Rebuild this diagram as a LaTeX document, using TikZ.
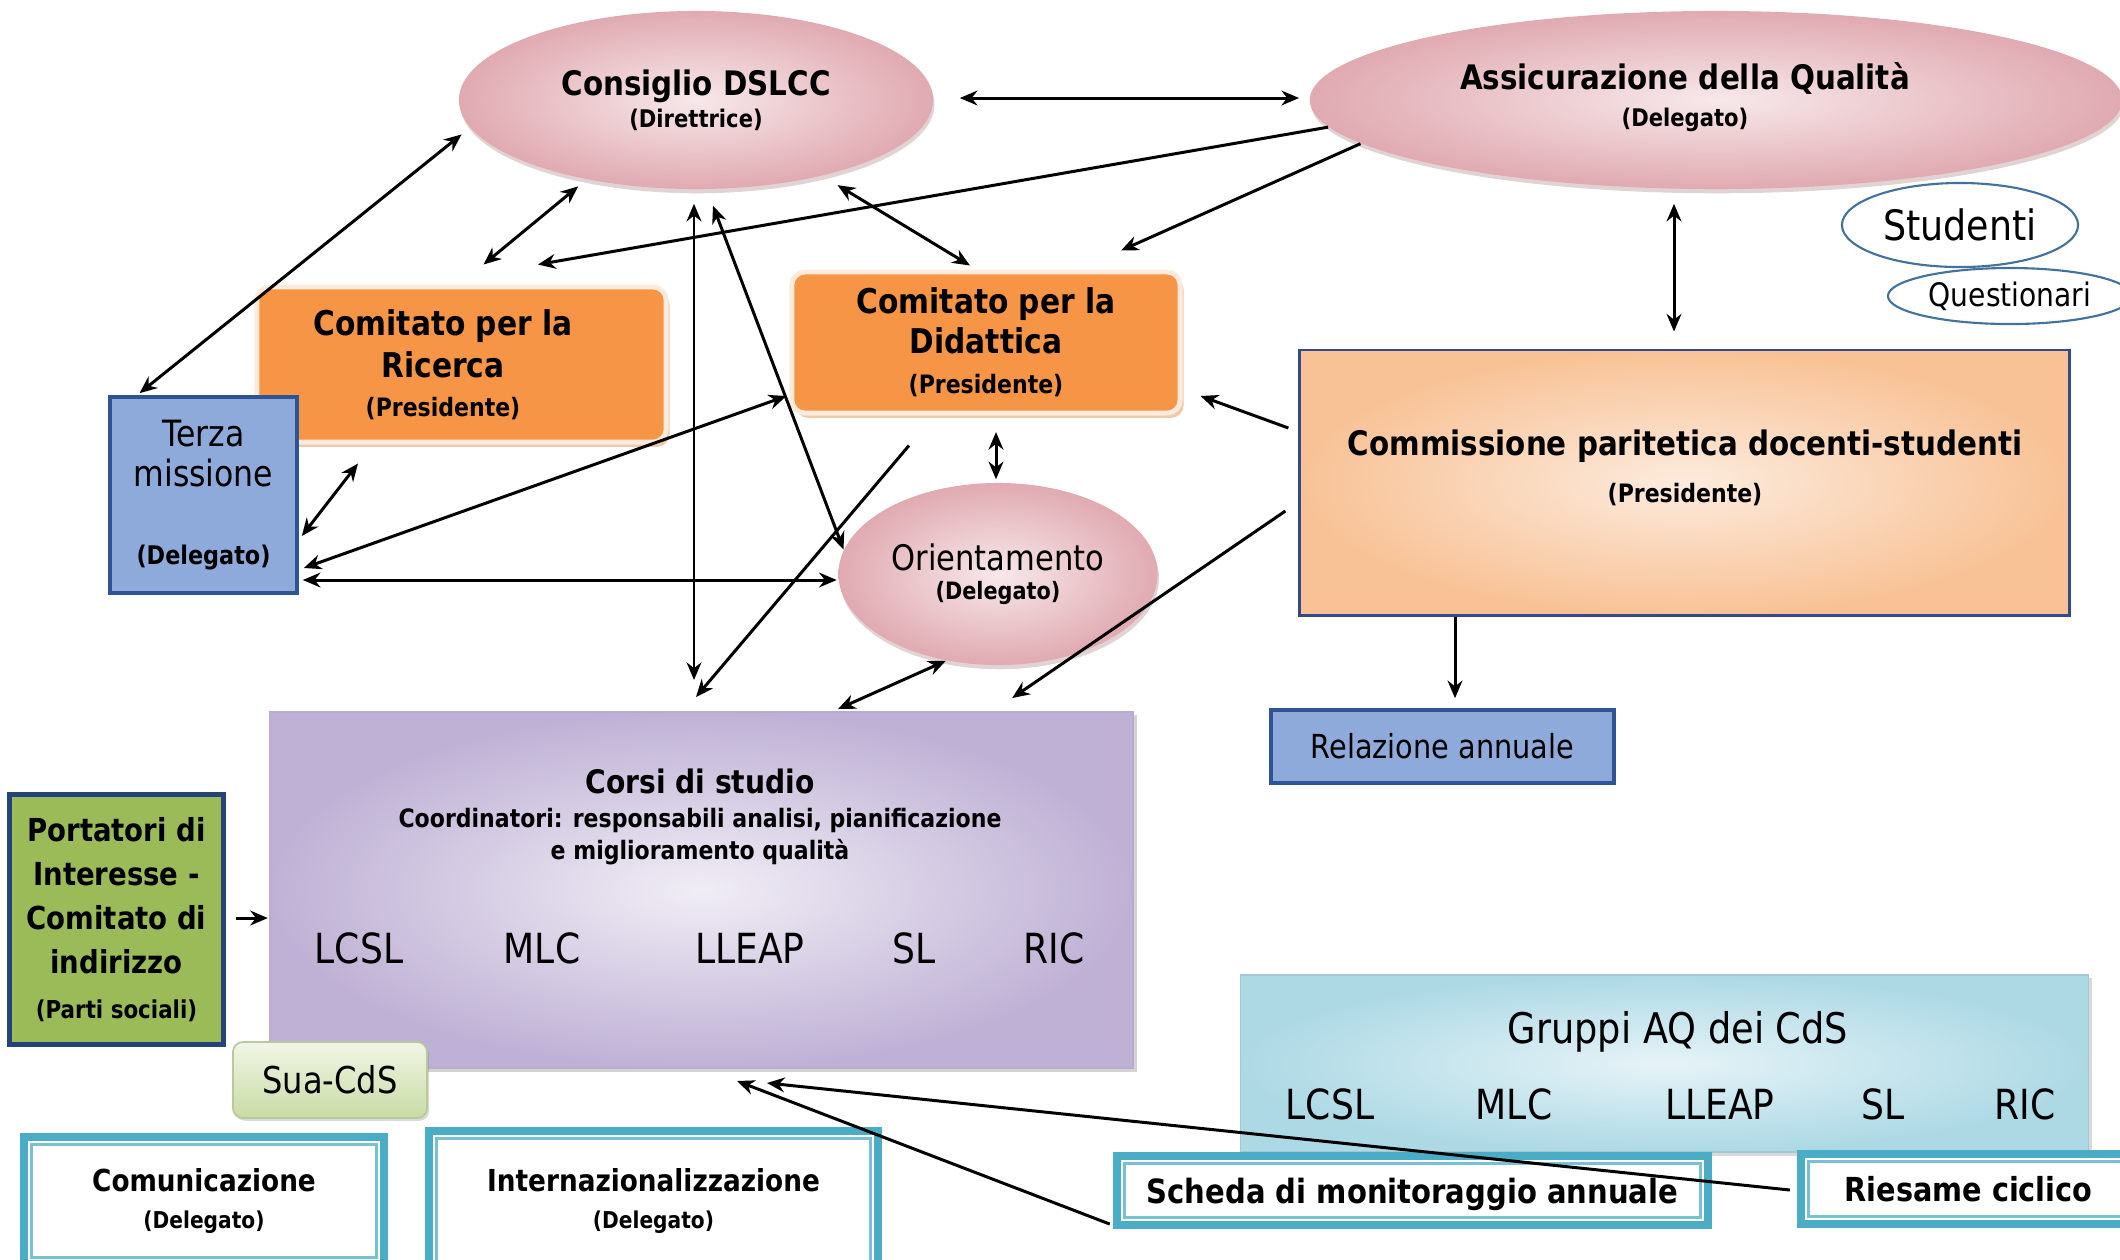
\documentclass[tikz,border=0pt]{standalone}
\usepackage{fontspec}
\setmainfont{DejaVu Sans}[FakeStretch=0.87]
\usetikzlibrary{shapes.geometric,shadows,arrows.meta}
\newcommand{\setfs}[2]{\fontsize{#1}{#2}\selectfont}
\definecolor{pinkL}{HTML}{F7E8EA}
\definecolor{pinkD}{HTML}{E0AAB1}
\definecolor{orng}{HTML}{F59545}
\definecolor{orngrim}{HTML}{FCEBDD}
\definecolor{bluebox}{HTML}{8EAADB}
\definecolor{blueline}{HTML}{2F5496}
\definecolor{peachL}{HTML}{FCEBDD}
\definecolor{peachD}{HTML}{F8C296}
\definecolor{cpsline}{HTML}{34498A}
\definecolor{lilacL}{HTML}{F0EDF5}
\definecolor{lilacD}{HTML}{BFB1D5}
\definecolor{leaf}{HTML}{9BBB59}
\definecolor{suaL}{HTML}{F1F6E6}
\definecolor{suaD}{HTML}{C9DBA4}
\definecolor{aqL}{HTML}{E6F3F7}
\definecolor{aqD}{HTML}{ADD9E5}
\definecolor{frameteal}{HTML}{4BACC6}
\definecolor{studline}{HTML}{41719C}
\begin{document}
\begin{tikzpicture}[x=0.01cm, y=-0.01cm,
  >={Stealth[length=5pt,width=4.2pt]},
  link/.style={line width=0.85pt},
  oval/.style={ellipse, inner sep=0pt, align=center, inner color=pinkL, outer color=pinkD,
    drop shadow={shadow xshift=0.4pt, shadow yshift=-1.2pt, fill=pinkD!75!black, opacity=0.35}},
  tag/.style={ellipse, inner sep=0pt, draw=studline, line width=0.6pt, fill=white},
  comitato/.style={rectangle, rounded corners=0.13cm, inner sep=0pt, align=center, fill=orng, draw=orngrim, line width=1.4pt,
    drop shadow={shadow xshift=1pt, shadow yshift=-1.4pt, fill=orng!50!brown, opacity=0.45}},
  delegato/.style={rectangle, inner sep=0pt, align=center, fill=bluebox, draw=blueline, line width=1pt},
  parit/.style={rectangle, inner sep=0pt, inner color=peachL, outer color=peachD, draw=cpsline, line width=0.8pt},
  corsi/.style={rectangle, inner sep=0pt, inner color=lilacL, outer color=lilacD, draw=lilacD!90!gray, line width=0.5pt,
    drop shadow={shadow xshift=1pt, shadow yshift=-1pt, fill=gray, opacity=0.35}},
  frame/.style={rectangle, inner sep=0pt, align=center, fill=white, draw=frameteal, line width=2.3pt,
    path picture={\draw[frameteal!75!white, line width=0.8pt] ([shift={(7.5,7.5)}]path picture bounding box.north west) rectangle ([shift={(-7.5,-7.5)}]path picture bounding box.south east);}},
  lbl/.style={inner sep=0pt, align=center},
  code/.style={inner sep=0pt, anchor=base, font=\setfs{11.8}{14}}]
\useasboundingbox (0,0) rectangle (2120,1259);
\clip (0,0) rectangle (2120,1259);

\node[oval, minimum width=4.74cm, minimum height=1.78cm, font=\setfs{6.9}{9.2}\bfseries] at (696,100) (cons) {{\setfs{9.6}{9.2}Consiglio DSLCC}\\(Direttrice)};
\node[oval, minimum width=8.12cm, minimum height=1.78cm] at (1716,100) (aq) {};
\node[lbl, font=\setfs{6.9}{10.4}\bfseries] at (1685,97) (aqlbl) {{\setfs{9.6}{10.4}Assicurazione della Qualità}\\(Delegato)};
\node[tag, minimum width=2.36cm, minimum height=0.84cm, font=\setfs{11.9}{14}] at (1960,225) (stud) {Studenti};
\node[tag, minimum width=2.44cm, minimum height=0.56cm, font=\setfs{9.2}{11}] at (2010,296) (quest) {Questionari};

\node[comitato, minimum width=4.09cm, minimum height=1.55cm] at (461.5,364.5) (ric) {};
\node[lbl, font=\setfs{9.7}{12.2}\bfseries] at (443,364.5) (riclbl) {Comitato per la\\Ricerca\\[-1.2pt]{\setfs{7.2}{11}(Presidente)}};
\node[comitato, minimum width=3.88cm, minimum height=1.41cm, font=\setfs{9.7}{11.4}\bfseries] at (986,342.5) (did) {Comitato per la\\Didattica\\{\setfs{7.2}{11}(Presidente)}};
\node[delegato, minimum width=1.87cm, minimum height=1.96cm, font=\setfs{10.3}{11.4}] at (203.5,495) (terza) {Terza\\missione\\[10.5pt]{\setfs{7.3}{9}\bfseries (Delegato)}};
\node[oval, minimum width=3.19cm, minimum height=1.82cm, font=\setfs{6.8}{8.2}\bfseries] at (998,574) (orient) {{\setfs{10}{8.2}\mdseries Orientamento}\\(Delegato)};

\node[parit, minimum width=7.69cm, minimum height=2.65cm] at (1684.5,482.5) (cps) {};
\node[lbl, font=\setfs{7.2}{13.3}\bfseries] at (1685,468) (cpslbl) {{\setfs{9.6}{13.3}Commissione paritetica docenti-studenti}\\(Presidente)};
\node[delegato, minimum width=3.43cm, minimum height=0.73cm, font=\setfs{9.4}{11}] at (1442.5,746.5) (rel) {Relazione annuale};

\node[corsi, minimum width=8.63cm, minimum height=3.56cm] at (701.5,890) (cds) {};
\node[lbl, font=\setfs{7.2}{9.1}\bfseries] at (700,816.5) (cdslbl) {{\setfs{9.2}{9.1}Corsi di studio}\\[0.6pt]Coordinatori: responsabili analisi, pianificazione\\e miglioramento qualità};
\node[code] at (359,963) (cLCSL) {LCSL};
\node[code] at (542,963) (cMLC) {MLC};
\node[code] at (750,963) (cLLEAP) {LLEAP};
\node[code] at (914,963) (cSL) {SL};
\node[code] at (1054,963) (cRIC) {RIC};

\node[delegato, fill=leaf, draw=blueline!80!black, line width=1.4pt, minimum width=2.13cm, minimum height=2.49cm, font=\setfs{9}{12.5}\bfseries] at (116.5,919.5) (port) {Portatori di\\Interesse -\\Comitato di\\indirizzo\\[0.5pt]{\setfs{7}{9}(Parti sociali)}};
\node[rectangle, rounded corners=0.1cm, inner sep=0pt, minimum width=1.94cm, minimum height=0.76cm, top color=suaL, bottom color=suaD, draw=suaD!80!gray, line width=0.5pt, font=\setfs{10.5}{12},
  drop shadow={shadow xshift=0.6pt, shadow yshift=-0.8pt, fill=gray, opacity=0.3}] at (330,1080) (sua) {Sua-CdS};

\node[frame, minimum width=3.60cm, minimum height=1.28cm, font=\setfs{6.6}{10.8}\bfseries] at (204,1201) (com) {{\setfs{8.6}{10.8}Comunicazione}\\(Delegato)};
\node[frame, minimum width=4.49cm, minimum height=1.40cm, font=\setfs{6.6}{10.8}\bfseries] at (653.5,1201) (intl) {{\setfs{8.6}{10.8}Internazionalizzazione}\\(Delegato)};

\node[rectangle, inner sep=0pt, minimum width=8.47cm, minimum height=1.77cm, inner color=aqL, outer color=aqD, draw=aqD!80!gray, line width=0.4pt,
  drop shadow={shadow xshift=1pt, shadow yshift=-1pt, fill=gray, opacity=0.3}] at (1664.5,1063.5) (gaq) {};
\node[lbl, anchor=base, font=\setfs{12}{14}] at (1678,1043) (gaqlbl) {Gruppi AQ dei CdS};
\node[code] at (1330,1119) (gLCSL) {LCSL};
\node[code] at (1514,1119) (gMLC) {MLC};
\node[code] at (1720,1119) (gLLEAP) {LLEAP};
\node[code] at (1883,1119) (gSL) {SL};
\node[code] at (2025,1119) (gRIC) {RIC};
\node[frame, minimum width=5.91cm, minimum height=0.69cm, text depth=0pt, font=\setfs{9.5}{11}\bfseries] at (1412.5,1190.5) (smon) {Scheda di monitoraggio annuale};
\node[frame, minimum width=3.35cm, minimum height=0.70cm, font=\setfs{9.4}{11}\bfseries] at (1968.5,1189) (ries) {Riesame ciclico};

\draw[link,<->] ([shift={(26,-2)}]cons.east) -- ([shift={(-10,-2)}]aq.west);
\draw[link,<->,shorten <=3pt] (cons.187) -- ([shift={(-64,-2)}]terza.north);
\draw[link,<->,shorten <=3pt] (cons.216) -- ([shift={(22,-20)}]ric.north);
\draw[link,<->,shorten <=5pt] (cons.-31) -- ([shift={(-16,-4)}]did.north);
\draw[link,<->] ([shift={(-2,14)}]cons.south) -- ([shift={(-7.5,-31)}]cds.north);
\draw[link,<->] ([shift={(17,16)}]cons.south) -- (orient.171);
\draw[link,<->] ([shift={(-103.5,19)}]ric.south) -- ([shift={(3,41)}]terza.east);
\draw[link,<->] ([shift={(-3,53.5)}]did.west) -- ([shift={(5,73)}]terza.east);
\draw[link,<->] ([shift={(4,85)}]terza.east) -- ([shift={(-1,6)}]orient.west);
\draw[link,<->] ([shift={(10,16.5)}]did.south) -- ([shift={(-2,-3)}]orient.north);
\draw[link,->] ([shift={(-77,30)}]did.south) -- ([shift={(-5.5,-14)}]cds.north);
\draw[link,<->] (orient.239) -- ([shift={(136.5,-2)}]cds.north);
\draw[link,->] (aq.184) -- ([shift={(76.5,-20)}]ric.north);
\draw[link,->] (aq.187) -- ([shift={(135,-19)}]did.north);
\draw[link,->] ([shift={(-10,-54.5)}]cps.west) -- ([shift={(18,53.5)}]did.east);
\draw[link,->] ([shift={(-13,28.5)}]cps.west) -- ([shift={(-122,-13)}]cds.north east);
\draw[link,<->] ([shift={(-42,14)}]aq.south) -- ([shift={(-10.5,-17)}]cps.north);
\draw[link,->] ([shift={(-229.5,0)}]cps.south) -- ([shift={(12.5,-10)}]rel.north);
\draw[link,->] ([shift={(10,-1.5)}]port.east) -- ([shift={(-1,28)}]cds.west);
\draw[link,->] ([shift={(-3,-5)}]smon.south west) -- ([shift={(35.5,12)}]cds.south);
\draw[link,->] ([shift={(-7,1)}]ries.west) -- ([shift={(65.5,14)}]cds.south);
\end{tikzpicture}
\end{document}
